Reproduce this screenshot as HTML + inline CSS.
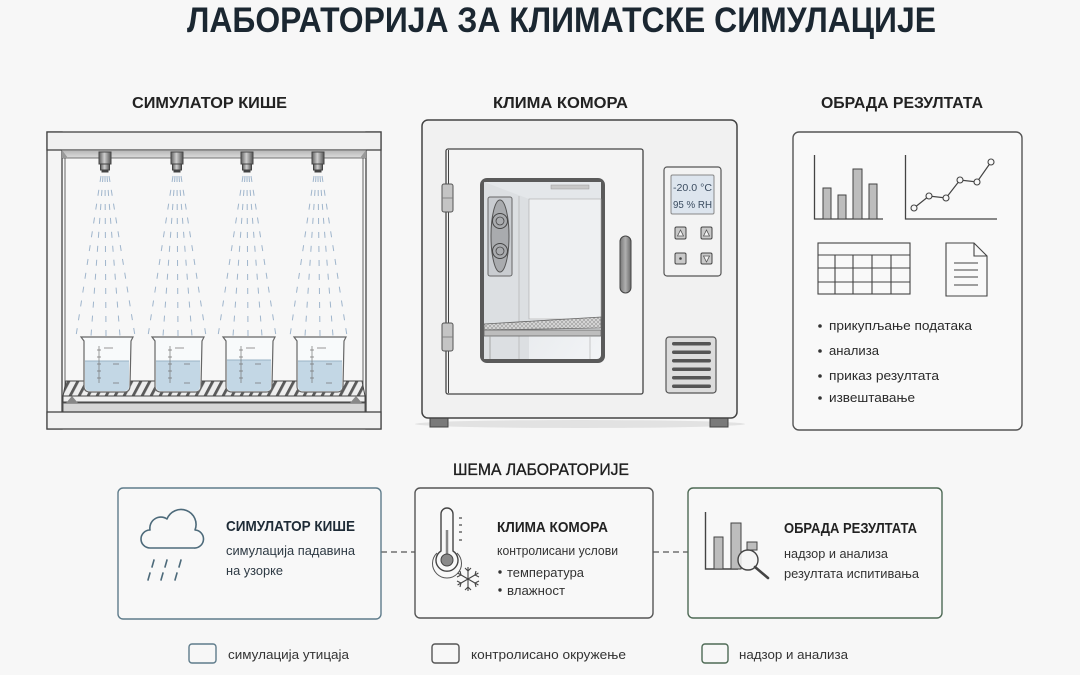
<!DOCTYPE html>
<html><head><meta charset="utf-8"><style>
html,body{margin:0;padding:0;background:#f7f7f7;}
svg{display:block;}
text{font-family:"Liberation Sans","DejaVu Sans",sans-serif;}
</style></head><body>
<svg width="1080" height="675" viewBox="0 0 1080 675" xmlns="http://www.w3.org/2000/svg">
<defs>
 <linearGradient id="nz" x1="0" x2="1"><stop offset="0" stop-color="#5e5e5e"/><stop offset=".45" stop-color="#cfcfcf"/><stop offset="1" stop-color="#555"/></linearGradient>
 <linearGradient id="strip" x1="0" y1="0" x2="0" y2="1"><stop offset="0" stop-color="#b5b5b5"/><stop offset="1" stop-color="#dcdcdc"/></linearGradient>
 <pattern id="slats" width="9" height="20" patternUnits="userSpaceOnUse" patternTransform="skewX(-28)">
   <rect width="9" height="20" fill="#eeeeee"/>
   <rect x="0" width="3.2" height="20" fill="#5a5a5a"/>
 </pattern>
 <pattern id="grid" width="4" height="4" patternUnits="userSpaceOnUse">
   <rect width="4" height="4" fill="#d8d8d8"/>
   <path d="M0,0 L4,4 M4,0 L0,4" stroke="#999" stroke-width=".6"/>
 </pattern>
 <linearGradient id="win" x1="0" y1="0" x2="1" y2="1"><stop offset="0" stop-color="#dcdfe3"/><stop offset="1" stop-color="#f2f4f6"/></linearGradient>
 <linearGradient id="handle" x1="0" x2="1"><stop offset="0" stop-color="#777"/><stop offset=".5" stop-color="#b0b0b0"/><stop offset="1" stop-color="#6a6a6a"/></linearGradient>
</defs>

<!-- Title -->
<text x="187" y="32" font-size="35" font-weight="bold" fill="#1b2731" textLength="749" lengthAdjust="spacingAndGlyphs">ЛАБОРАТОРИЈА ЗА КЛИМАТСКЕ СИМУЛАЦИЈЕ</text>

<!-- Section headings -->
<text x="132" y="108" font-size="16" font-weight="bold" fill="#222" textLength="155" lengthAdjust="spacingAndGlyphs">СИМУЛАТОР КИШЕ</text>
<text x="493" y="108" font-size="16" font-weight="bold" fill="#222" textLength="135" lengthAdjust="spacingAndGlyphs">КЛИМА КОМОРА</text>
<text x="821" y="108" font-size="16" font-weight="bold" fill="#222" textLength="162" lengthAdjust="spacingAndGlyphs">ОБРАДА РЕЗУЛТАТА</text>

<!-- ============ RAIN SIMULATOR ============ -->
<g>
 <rect x="47" y="132" width="15" height="297" fill="#f4f4f4" stroke="#444" stroke-width="1.3"/>
 <rect x="366" y="132" width="15" height="297" fill="#f4f4f4" stroke="#444" stroke-width="1.3"/>
 <line x1="65" y1="150" x2="65" y2="415" stroke="#666" stroke-width="1"/>
 <line x1="363" y1="150" x2="363" y2="415" stroke="#666" stroke-width="1"/>
 <rect x="47" y="132" width="334" height="18" fill="#f1f1f1" stroke="#444" stroke-width="1.3"/>
 <rect x="62" y="150" width="304" height="8" fill="url(#strip)" stroke="#555" stroke-width=".8"/>
 <path d="M62,150 L68,158 L62,158 Z M366,150 L360,158 L366,158 Z" fill="#999"/>

 <!-- nozzles & spray -->
 <g stroke="#9fb5cc" stroke-width="1" stroke-dasharray="6 8" fill="none">
  <path d="M101,176 L76,336 M103,176 L91,336 M105,176 L106,336 M107,176 L120,336 M109,176 L135,336"/>
  <path d="M173,176 L148,336 M175,176 L163,336 M177,176 L178,336 M179,176 L192,336 M181,176 L206,336"/>
  <path d="M243,176 L218,336 M245,176 L233,336 M247,176 L248,336 M249,176 L262,336 M251,176 L276,336"/>
  <path d="M314,176 L290,336 M316,176 L305,336 M318,176 L320,336 M320,176 L333,336 M322,176 L347,336"/>
 </g>
 <g stroke="#444" stroke-width="1">
  <g transform="translate(105,0)"><rect x="-6" y="152" width="12" height="12" fill="url(#nz)"/><rect x="-4.5" y="164" width="9" height="6" fill="url(#nz)"/><rect x="-3" y="170" width="6" height="2" fill="#444"/></g>
  <g transform="translate(177,0)"><rect x="-6" y="152" width="12" height="12" fill="url(#nz)"/><rect x="-4.5" y="164" width="9" height="6" fill="url(#nz)"/><rect x="-3" y="170" width="6" height="2" fill="#444"/></g>
  <g transform="translate(247,0)"><rect x="-6" y="152" width="12" height="12" fill="url(#nz)"/><rect x="-4.5" y="164" width="9" height="6" fill="url(#nz)"/><rect x="-3" y="170" width="6" height="2" fill="#444"/></g>
  <g transform="translate(318,0)"><rect x="-6" y="152" width="12" height="12" fill="url(#nz)"/><rect x="-4.5" y="164" width="9" height="6" fill="url(#nz)"/><rect x="-3" y="170" width="6" height="2" fill="#444"/></g>
 </g>

 <!-- tray -->
 <polygon points="66,381 362,381 365,396 63,396" fill="url(#slats)" stroke="#444" stroke-width="1"/>
 <rect x="63" y="396" width="302" height="6" fill="#efefef" stroke="#444" stroke-width="1"/>
 <rect x="63" y="403" width="302" height="9" fill="#d6d6d6" stroke="#555" stroke-width="1"/>
 <path d="M66,403 L72,396 L78,403 Z M362,403 L356,396 L350,403 Z" fill="#888"/>
 <rect x="47" y="412" width="334" height="17" fill="#f1f1f1" stroke="#444" stroke-width="1.3"/>

 <!-- beakers -->
 <g transform="translate(107,0)">
  <path d="M-26,337 L26,337 L24,341 L23,386 Q23,392 17,392 L-17,392 Q-23,392 -23,386 L-23,341 Z" fill="#f8fafb" stroke="#666" stroke-width="1.2"/>
  <path d="M-22,361 L22,361 L22,386 Q22,391 17,391 L-17,391 Q-22,391 -22,386 Z" fill="#c3d7e5"/>
  <line x1="-22" y1="361" x2="22" y2="361" stroke="#98b3c5" stroke-width="1"/>
  <path d="M-8,346 V383 M-10,350 H-6 M-10,357 H-6 M-10,364 H-6 M-10,371 H-6 M-10,378 H-6 M-3,348 H6 M6,364 H12 M6,383 H12" stroke="#777" stroke-width=".7"/>
 </g>
 <g transform="translate(178,0)">
  <path d="M-26,337 L26,337 L24,341 L23,386 Q23,392 17,392 L-17,392 Q-23,392 -23,386 L-23,341 Z" fill="#f8fafb" stroke="#666" stroke-width="1.2"/>
  <path d="M-22,361 L22,361 L22,386 Q22,391 17,391 L-17,391 Q-22,391 -22,386 Z" fill="#c3d7e5"/>
  <line x1="-22" y1="361" x2="22" y2="361" stroke="#98b3c5" stroke-width="1"/>
  <path d="M-8,346 V383 M-10,350 H-6 M-10,357 H-6 M-10,364 H-6 M-10,371 H-6 M-10,378 H-6 M-3,348 H6 M6,364 H12 M6,383 H12" stroke="#777" stroke-width=".7"/>
 </g>
 <g transform="translate(249,0)">
  <path d="M-26,337 L26,337 L24,341 L23,386 Q23,392 17,392 L-17,392 Q-23,392 -23,386 L-23,341 Z" fill="#f8fafb" stroke="#666" stroke-width="1.2"/>
  <path d="M-22,360 L22,360 L22,386 Q22,391 17,391 L-17,391 Q-22,391 -22,386 Z" fill="#c3d7e5"/>
  <line x1="-22" y1="360" x2="22" y2="360" stroke="#98b3c5" stroke-width="1"/>
  <path d="M-8,346 V383 M-10,350 H-6 M-10,357 H-6 M-10,364 H-6 M-10,371 H-6 M-10,378 H-6 M-3,348 H6 M6,364 H12 M6,383 H12" stroke="#777" stroke-width=".7"/>
 </g>
 <g transform="translate(320,0)">
  <path d="M-26,337 L26,337 L24,341 L23,386 Q23,392 17,392 L-17,392 Q-23,392 -23,386 L-23,341 Z" fill="#f8fafb" stroke="#666" stroke-width="1.2"/>
  <path d="M-22,361 L22,361 L22,386 Q22,391 17,391 L-17,391 Q-22,391 -22,386 Z" fill="#c3d7e5"/>
  <line x1="-22" y1="361" x2="22" y2="361" stroke="#98b3c5" stroke-width="1"/>
  <path d="M-8,346 V383 M-10,350 H-6 M-10,357 H-6 M-10,364 H-6 M-10,371 H-6 M-10,378 H-6 M-3,348 H6 M6,364 H12 M6,383 H12" stroke="#777" stroke-width=".7"/>
 </g>
</g>

<!-- ============ CLIMATE CHAMBER ============ -->
<g>
 <ellipse cx="580" cy="424" rx="165" ry="4" fill="#e2e2e2"/>
 <rect x="430" y="416" width="18" height="11" fill="#7a7a7a" stroke="#444" stroke-width="1"/>
 <rect x="710" y="416" width="18" height="11" fill="#7a7a7a" stroke="#444" stroke-width="1"/>
 <rect x="422" y="120" width="315" height="298" rx="6" fill="#f1f1f1" stroke="#444" stroke-width="1.5"/>
 <rect x="446" y="149" width="197" height="245" rx="2" fill="#f4f4f4" stroke="#444" stroke-width="1.3"/>
 <line x1="448.5" y1="150" x2="448.5" y2="393" stroke="#444" stroke-width="1"/>
 <rect x="442" y="184" width="11" height="28" rx="2" fill="#c4c4c4" stroke="#555" stroke-width="1"/>
 <line x1="442" y1="198" x2="453" y2="198" stroke="#777" stroke-width=".8"/>
 <rect x="442" y="323" width="11" height="28" rx="2" fill="#c4c4c4" stroke="#555" stroke-width="1"/>
 <line x1="442" y1="337" x2="453" y2="337" stroke="#777" stroke-width=".8"/>

 <!-- window -->
 <rect x="480" y="178" width="125" height="185" rx="7" fill="#5a5a5a"/>
 <rect x="484" y="182" width="117" height="177" rx="4" fill="url(#win)"/>
 <polygon points="484,182 601,182 601,199 529,199" fill="#e4e7ea"/>
 <polygon points="484,182 529,199 529,359 484,359" fill="#dcdfe2"/>
 <rect x="529" y="199" width="72" height="120" fill="#eef0f2" stroke="#aaa" stroke-width=".6"/>
 <line x1="519" y1="196" x2="519" y2="359" stroke="#aaa" stroke-width=".6"/>
 <rect x="551" y="185" width="38" height="4" fill="#c8c8c8" stroke="#999" stroke-width=".5"/>
 <rect x="488" y="197" width="24" height="79" rx="2" fill="#c9ccd0" stroke="#666" stroke-width="1"/>
 <ellipse cx="500" cy="236" rx="9" ry="36" fill="#a9abae" stroke="#555" stroke-width="1"/>
 <circle cx="500" cy="221" r="7.5" fill="none" stroke="#444" stroke-width="1"/>
 <circle cx="500" cy="221" r="4" fill="none" stroke="#444" stroke-width=".8"/>
 <circle cx="500" cy="251" r="7.5" fill="none" stroke="#444" stroke-width="1"/>
 <circle cx="500" cy="251" r="4" fill="none" stroke="#444" stroke-width=".8"/>
 <polygon points="484,324 601,317 601,328 484,330" fill="url(#grid)" stroke="#666" stroke-width=".8"/>
 <rect x="484" y="330" width="117" height="6" fill="#bdbdbd" stroke="#666" stroke-width=".8"/>
 <line x1="490" y1="336" x2="490" y2="359" stroke="#999" stroke-width=".8"/>
 <line x1="590" y1="336" x2="590" y2="359" stroke="#aaa" stroke-width=".6"/>

 <!-- handle -->
 <rect x="620" y="236" width="11" height="57" rx="5.5" fill="url(#handle)" stroke="#444" stroke-width="1"/>

 <!-- control panel -->
 <rect x="664" y="167" width="57" height="109" rx="3" fill="#f3f3f3" stroke="#555" stroke-width="1.2"/>
 <rect x="671" y="175" width="43" height="39" rx="1.5" fill="#dde5ee" stroke="#888" stroke-width="1"/>
 <text x="692.5" y="191" font-size="10.5" fill="#3b4c60" text-anchor="middle" textLength="39" lengthAdjust="spacingAndGlyphs">-20.0 °C</text>
 <text x="692.5" y="208" font-size="10.5" fill="#3b4c60" text-anchor="middle" textLength="39" lengthAdjust="spacingAndGlyphs">95 % RH</text>
 <g stroke="#444" stroke-width="1">
  <rect x="675" y="227" width="11" height="12" rx="1.5" fill="#c9c9c9"/>
  <rect x="701" y="227" width="11" height="12" rx="1.5" fill="#c9c9c9"/>
  <rect x="675" y="253" width="11" height="11" rx="1.5" fill="#c9c9c9"/>
  <rect x="701" y="253" width="11" height="11" rx="1.5" fill="#c9c9c9"/>
 </g>
 <path d="M677.5,236 L680.5,230 L683.5,236 Z M703.5,236 L706.5,230 L709.5,236 Z M703.5,256 L706.5,262 L709.5,256 Z" fill="#f2f2f2" stroke="#555" stroke-width=".8"/>
 <circle cx="680.5" cy="258.5" r="1.3" fill="#444"/>

 <!-- vent -->
 <rect x="666" y="337" width="50" height="56" rx="3" fill="#dcdcdc" stroke="#555" stroke-width="1.2"/>
 <g fill="#555">
  <rect x="672" y="342" width="39" height="3.5" rx="1.7"/>
  <rect x="672" y="350.5" width="39" height="3.5" rx="1.7"/>
  <rect x="672" y="359" width="39" height="3.5" rx="1.7"/>
  <rect x="672" y="367.5" width="39" height="3.5" rx="1.7"/>
  <rect x="672" y="376" width="39" height="3.5" rx="1.7"/>
  <rect x="672" y="384.5" width="39" height="3.5" rx="1.7"/>
 </g>
</g>

<!-- ============ RESULTS PANEL ============ -->
<g>
 <rect x="793" y="132" width="229" height="298" rx="6" fill="#f9f9f9" stroke="#555" stroke-width="1.4"/>
 <path d="M814.5,155 V219 H883" fill="none" stroke="#444" stroke-width="1.3"/>
 <g fill="#bdbdbd" stroke="#444" stroke-width="1">
  <rect x="823" y="188" width="8" height="31"/>
  <rect x="838" y="195" width="8" height="24"/>
  <rect x="853" y="169" width="9" height="50"/>
  <rect x="869" y="184" width="8" height="35"/>
 </g>
 <path d="M905.5,155 V219 H997" fill="none" stroke="#444" stroke-width="1.3"/>
 <polyline points="914,208 929,196 946,198 960,180 977,182 991,162" fill="none" stroke="#444" stroke-width="1.2"/>
 <g fill="#f9f9f9" stroke="#444" stroke-width="1.1">
  <circle cx="914" cy="208" r="3"/><circle cx="929" cy="196" r="3"/><circle cx="946" cy="198" r="3"/>
  <circle cx="960" cy="180" r="3"/><circle cx="977" cy="182" r="3"/><circle cx="991" cy="162" r="3"/>
 </g>
 <g fill="none" stroke="#444" stroke-width="1.1">
  <rect x="818" y="243" width="92" height="51"/>
  <path d="M818,255 H910 M818,268 H910 M818,282 H910 M835,255 V294 M853,255 V294 M872,255 V294 M891,255 V294"/>
  <path d="M946,243 H974 L987,256 V296 H946 Z M974,243 V256 H987"/>
  <path d="M954,263 H978 M954,270 H978 M954,277 H978 M954,285 H978"/>
 </g>
 <g font-size="13" fill="#2a2a2a">
  <circle cx="820" cy="326" r="1.8" fill="#333"/><text x="829" y="330" textLength="143" lengthAdjust="spacingAndGlyphs">прикупљање података</text>
  <circle cx="820" cy="351" r="1.8" fill="#333"/><text x="829" y="355" textLength="50" lengthAdjust="spacingAndGlyphs">анализа</text>
  <circle cx="820" cy="376" r="1.8" fill="#333"/><text x="829" y="380" textLength="110" lengthAdjust="spacingAndGlyphs">приказ резултата</text>
  <circle cx="820" cy="398" r="1.8" fill="#333"/><text x="829" y="402" textLength="86" lengthAdjust="spacingAndGlyphs">извештавање</text>
 </g>
</g>

<!-- ============ SCHEMA ============ -->
<text x="453" y="475" font-size="17" fill="#1e1e1e" stroke="#1e1e1e" stroke-width=".35" textLength="176" lengthAdjust="spacingAndGlyphs">ШЕМА ЛАБОРАТОРИЈЕ</text>

<!-- connectors -->
<g stroke="#555" stroke-width="1.2" stroke-dasharray="6 4">
 <line x1="381" y1="552" x2="415" y2="552"/>
 <line x1="653" y1="552" x2="688" y2="552"/>
</g>

<!-- Box 1 -->
<rect x="118" y="488" width="263" height="131" rx="5" fill="#f8f8f8" stroke="#5f7c8b" stroke-width="1.4"/>
<path d="M150,548 L194,548 A9,9 0 0 0 195,530 A15,15 0 0 0 167,519 A11,11 0 0 0 150,530 A9,9 0 0 0 150,548 Z" fill="none" stroke="#4d6a7a" stroke-width="1.6" stroke-linejoin="round"/>
<g stroke="#4d6a7a" stroke-width="1.6" stroke-linecap="round">
 <line x1="154" y1="560" x2="152" y2="567"/><line x1="167" y1="560" x2="165" y2="567"/><line x1="181" y1="560" x2="179" y2="567"/>
 <line x1="150" y1="573" x2="148" y2="580"/><line x1="163" y1="573" x2="161" y2="580"/><line x1="177" y1="573" x2="175" y2="580"/>
</g>
<text x="226" y="531" font-size="15" font-weight="bold" fill="#1e2b36" textLength="129" lengthAdjust="spacingAndGlyphs">СИМУЛАТОР КИШЕ</text>
<text x="226" y="555" font-size="13" fill="#2e3a44" textLength="129" lengthAdjust="spacingAndGlyphs">симулација падавина</text>
<text x="226" y="575" font-size="13" fill="#2e3a44" textLength="57" lengthAdjust="spacingAndGlyphs">на узорке</text>

<!-- Box 2 -->
<rect x="415" y="488" width="238" height="130" rx="5" fill="#f8f8f8" stroke="#555" stroke-width="1.4"/>
<path d="M441,551 V514 A6,6 0 0 1 453,514 V551 A11,11 0 1 1 441,551 Z" fill="none" stroke="#444" stroke-width="1.4"/>
<path d="M437,553 A14.5,14.5 0 1 0 457,553" fill="none" stroke="#555" stroke-width="1"/>
<line x1="447" y1="530" x2="447" y2="556" stroke="#888" stroke-width="2.5"/>
<circle cx="447" cy="560" r="6" fill="#8a8a8a" stroke="#444" stroke-width="1"/>
<g stroke="#444" stroke-width="1.2"><line x1="459" y1="518" x2="462" y2="518"/><line x1="459" y1="525" x2="462" y2="525"/><line x1="459" y1="532" x2="462" y2="532"/><line x1="459" y1="540" x2="462" y2="540"/></g>
<g stroke="#444" stroke-width="1.1" fill="none" transform="translate(468,579)">
 <path d="M0,-12 V12 M-10.4,-6 L10.4,6 M-10.4,6 L10.4,-6"/>
 <path d="M-3,-11 L0,-8 L3,-11 M-3,11 L0,8 L3,11"/>
 <path d="M-11,-2 L-7,-4 L-8,-8 M11,2 L7,4 L8,8 M-11,2 L-7,4 L-8,8 M11,-2 L7,-4 L8,-8"/>
</g>
<text x="497" y="532" font-size="15" font-weight="bold" fill="#222" textLength="111" lengthAdjust="spacingAndGlyphs">КЛИМА КОМОРА</text>
<text x="497" y="555" font-size="13" fill="#333" textLength="121" lengthAdjust="spacingAndGlyphs">контролисани услови</text>
<circle cx="500" cy="572" r="1.7" fill="#333"/>
<text x="507" y="577" font-size="13" fill="#333" textLength="77" lengthAdjust="spacingAndGlyphs">температура</text>
<circle cx="500" cy="590" r="1.7" fill="#333"/>
<text x="507" y="595" font-size="13" fill="#333" textLength="58" lengthAdjust="spacingAndGlyphs">влажност</text>

<!-- Box 3 -->
<rect x="688" y="488" width="254" height="130" rx="5" fill="#f8f8f8" stroke="#4e6a55" stroke-width="1.4"/>
<path d="M705.5,512 V569 H738" fill="none" stroke="#444" stroke-width="1.4"/>
<g fill="#bdbdbd" stroke="#444" stroke-width="1">
 <rect x="714" y="537" width="9" height="32"/>
 <rect x="731" y="523" width="10" height="46"/>
 <rect x="747" y="542" width="10" height="8"/>
</g>
<circle cx="748" cy="560" r="10" fill="#f4f4f4" fill-opacity=".85" stroke="#444" stroke-width="1.4"/>
<line x1="755" y1="567" x2="768" y2="578" stroke="#444" stroke-width="2.6" stroke-linecap="round"/>
<text x="784" y="533" font-size="15" font-weight="bold" fill="#222" textLength="133" lengthAdjust="spacingAndGlyphs">ОБРАДА РЕЗУЛТАТА</text>
<text x="784" y="558" font-size="13" fill="#333" textLength="104" lengthAdjust="spacingAndGlyphs">надзор и анализа</text>
<text x="784" y="578" font-size="13" fill="#333" textLength="135" lengthAdjust="spacingAndGlyphs">резултата испитивања</text>

<!-- Legend -->
<rect x="189" y="644" width="27" height="19" rx="3" fill="none" stroke="#5f7c8b" stroke-width="1.4"/>
<text x="228" y="659" font-size="13" fill="#333" textLength="121" lengthAdjust="spacingAndGlyphs">симулација утицаја</text>
<rect x="432" y="644" width="27" height="19" rx="3" fill="none" stroke="#555" stroke-width="1.4"/>
<text x="471" y="659" font-size="13" fill="#333" textLength="155" lengthAdjust="spacingAndGlyphs">контролисано окружење</text>
<rect x="702" y="644" width="26" height="19" rx="3" fill="none" stroke="#4e6a55" stroke-width="1.4"/>
<text x="739" y="659" font-size="13" fill="#333" textLength="109" lengthAdjust="spacingAndGlyphs">надзор и анализа</text>
</svg>
</body></html>
